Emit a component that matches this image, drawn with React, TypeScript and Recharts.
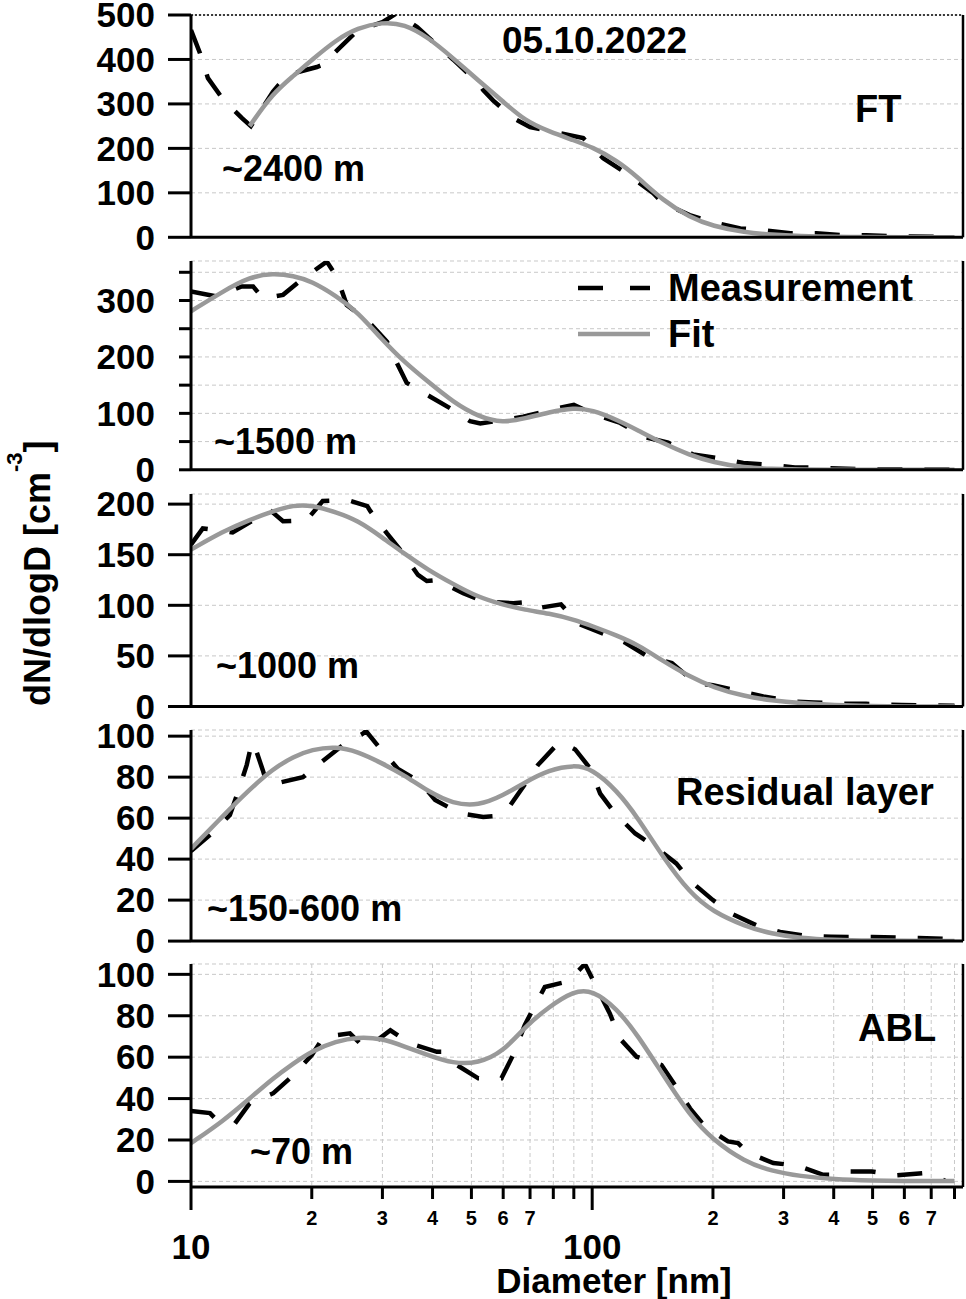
import { LineChart, Line, XAxis, YAxis, CartesianGrid, ReferenceLine, Legend } from "recharts";

const FONT = '"Liberation Sans", Arial, Helvetica, sans-serif';

// ---- data ----
// diameters (nm) at which the fitted curves were read
const fitDiameters = [
  10, 12, 14, 16, 18, 20, 23, 26, 30, 34, 39, 45, 52, 60, 68, 78, 90, 100, 115, 130, 150, 175,
  200, 240, 280, 330, 400, 500, 600, 700, 800,
];

// fitted dN/dlogD (cm^-3), one value per fitDiameters entry
const fitFT = [
  null, null, 250, 324, 363, 399, 444, 471, 484, 480, 450, 403, 353, 305, 262, 238, 218, 203, 173,
  135, 83, 45, 25, 11, 6, 3, 1, 0.5, 0, 0, 0,
];
const fit1500 = [
  281, 316, 342, 348, 344, 334, 308, 280, 230, 191, 156, 120, 94, 83, 91, 102, 110, 106, 89, 70,
  47, 26, 13.5, 3.5, 1.5, 0.5, 0, 0, 0, 0, 0,
];
const fit1000 = [
  155, 173, 184.5, 193, 199, 199, 192, 184, 167, 151, 135, 121, 108, 100.5, 95.5, 92, 86, 79.5,
  70.3, 61, 45, 29.5, 19, 10, 6, 3.2, 1.3, 0.3, 0.1, 0, 0,
];
const fitRL = [
  45, 61, 74, 84, 90, 93.5, 95, 92.5, 86.7, 81, 73, 67, 66, 71, 77.5, 83.5, 86, 84, 73.7, 60.2, 41,
  23.5, 14.3, 7.3, 3.5, 1.5, 0.6, 0.2, 0.1, 0.1, 0.1,
];
const fitABL = [
  18.5, 29, 40, 49.8, 57, 63, 67.7, 69.8, 69, 65.2, 61, 56.9, 57, 62.6, 74.7, 84.3, 92, 92.5, 83.7,
  70.5, 51.6, 31.9, 20, 9.5, 5, 2.5, 1, 0.4, 0.2, 0.2, 0.2,
];

// measured size distributions: [diameter nm, dN/dlogD]
const measFT: [number, number][] = [
  [10, 466], [10.53, 414], [11.02, 358], [12.0, 311], [13.4, 268], [14.1, 250], [16.0, 327],
  [17.35, 365], [20.6, 383], [22.2, 394], [22.9, 417], [26, 465], [30, 484], [32.6, 504],
  [36.6, 473], [39, 450], [45, 400], [52, 347], [53.5, 331], [56.6, 308], [63.6, 268], [70, 248],
  [83.2, 234], [95, 223], [106.5, 178], [120.8, 146], [142, 99], [150, 77], [175, 50], [200, 34],
  [234, 20], [267, 16], [312, 9], [362, 9], [423, 4.5], [482, 4.5], [600, 2], [800, 1],
];
const meas1500: [number, number][] = [
  [10, 316], [11.59, 307], [13.38, 325], [14.28, 325], [15.1, 304], [16.96, 310], [18.88, 337],
  [21.8, 369], [23.1, 342], [24.45, 292], [27.4, 266], [30.8, 227], [32.3, 195], [34.5, 154],
  [39.4, 130], [45, 106], [49.6, 86], [52.6, 82], [61, 89], [67.3, 94], [78.5, 106], [90, 115],
  [102.3, 97], [117.5, 83], [135.5, 58], [154.7, 48], [178.6, 27], [203.8, 21], [238, 12],
  [275, 9], [320, 4], [356, 4], [470, 1], [800, 0.5],
];
const meas1000: [number, number][] = [
  [10, 160], [10.7, 176], [12.7, 172], [15.75, 194], [16.96, 183], [19.4, 184], [21.3, 203],
  [24.6, 204], [27.5, 198], [28, 193], [30.8, 171], [33.2, 155], [36.8, 130], [38.7, 124],
  [41, 125], [47.7, 112], [53.5, 104], [63.6, 102], [68, 103], [72.5, 97], [83.6, 101], [92, 82],
  [106.5, 72], [121, 63], [139.5, 48], [158, 43], [181, 23], [200, 21], [234, 15], [267, 10],
  [316, 5], [357, 4], [424, 2.7], [482, 2.7], [590, 1.5], [800, 0.7],
];
const measRL: [number, number][] = [
  [10, 44], [11.26, 52.5], [12.5, 61.5], [13.1, 72.8], [13.77, 86], [14.16, 96.4], [14.3, 97],
  [15.1, 83.4], [15.45, 77], [16.36, 77], [19.0, 80], [21.2, 87.5], [23.9, 95.6], [26.85, 101.3],
  [27.3, 102.5], [29.6, 94], [32.8, 84], [37.2, 77.7], [40.6, 68.8], [46.9, 62.3], [53.5, 60.6],
  [57, 61], [61.7, 64.7], [67.3, 75.3], [73.3, 86], [80.9, 95], [84, 97], [90.7, 93.5],
  [98.9, 84.2], [104.7, 72], [114, 62.3], [128, 52.5], [143.6, 46], [162, 37.9], [176.7, 28.9],
  [200, 20], [222, 13.5], [256, 7.8], [294, 4.5], [344, 2.4], [394, 2.1], [500, 2], [650, 1.5],
  [800, 1],
];
const measABL: [number, number][] = [
  [10, 34], [11.15, 33], [11.48, 30.5], [12.87, 28], [14.0, 37.7], [16.04, 42.6], [17.83, 50.6],
  [20, 61], [21.4, 69.8], [24.9, 71.5], [26.4, 66.6], [27.7, 65], [31.4, 73], [35.2, 66.6],
  [41, 62.6], [42.6, 62.6], [46, 56.2], [52, 49.8], [59.4, 49.8], [63.5, 61], [67.9, 75.4],
  [71.3, 83.5], [76.2, 93.9], [87.1, 96.6], [95.9, 105], [104.5, 90.7], [110.7, 81],
  [117.2, 69], [129, 60.2], [148.9, 56.2], [160.7, 46.6], [175.3, 35.3], [191, 26.5], [218, 19.3],
  [231, 18.5], [245, 13.7], [282.8, 8.9], [325.5, 7.6], [376.6, 3.2], [406, 3.2], [430.7, 4.8],
  [497, 4.8], [574, 2.9], [669, 4], [702, 3.2], [758, 0.3],
];

const xTicks = [10, 20, 30, 40, 50, 60, 70, 80, 90, 100, 200, 300, 400, 500, 600, 700, 800];
const X_MIN = 10;
const X_MAX = 840;

const toPoints = (pairs: [number, number][]) => pairs.map(([d, n]) => ({ d, n }));
const fitPoints = (vals: (number | null)[]) => fitDiameters.map((d, i) => ({ d, n: vals[i] }));

// ---- layout of the five stacked panels ----
type Panel = {
  id: string;
  meas: [number, number][];
  fit: (number | null)[];
  domain: [number, number];
  ticks: number[];
  labelStep: number;
  tickLen: number;
  top: number;
  plotH: number;
  altitude: { text: string; x: number; y: number };
  tag?: { text: string; x: number; y: number };
};

const panels: Panel[] = [
  {
    id: "ft", meas: measFT, fit: fitFT, domain: [0, 500], ticks: [0, 100, 200, 300, 400, 500],
    labelStep: 100, tickLen: 23, top: 15, plotH: 222.3,
    altitude: { text: "~2400 m", x: 222, y: 181 }, tag: { text: "FT", x: 855, y: 122 },
  },
  {
    id: "1500", meas: meas1500, fit: fit1500, domain: [0, 370],
    ticks: [0, 50, 100, 150, 200, 250, 300, 350], labelStep: 100, tickLen: 12, top: 261.2,
    plotH: 208.8, altitude: { text: "~1500 m", x: 214, y: 454 },
  },
  {
    id: "1000", meas: meas1000, fit: fit1000, domain: [0, 210], ticks: [0, 50, 100, 150, 200],
    labelStep: 50, tickLen: 23, top: 494.2, plotH: 212.5,
    altitude: { text: "~1000 m", x: 216, y: 678 },
  },
  {
    id: "rl", meas: measRL, fit: fitRL, domain: [0, 103], ticks: [0, 20, 40, 60, 80, 100],
    labelStep: 20, tickLen: 23, top: 729.9, plotH: 211.1,
    altitude: { text: "~150-600 m", x: 207, y: 921 },
    tag: { text: "Residual layer", x: 676, y: 805 },
  },
  {
    id: "abl", meas: measABL, fit: fitABL, domain: [-2.7, 105], ticks: [0, 20, 40, 60, 80, 100],
    labelStep: 20, tickLen: 23, top: 964.3, plotH: 223,
    altitude: { text: "~70 m", x: 250, y: 1164 }, tag: { text: "ABL", x: 858, y: 1041 },
  },
];

const PAD = 20;
const textStyle = { fontFamily: FONT, fontWeight: 700, fill: "#000" } as const;

function CountTick(props: any) {
  const { x, y, payload, step } = props;
  const v = payload.value;
  if (v % step !== 0) return <g />;
  return (
    <text x={x} y={y} dy="0.35em" textAnchor="end" fontSize={35} {...textStyle}>
      {v}
    </text>
  );
}

function DiameterTick(props: any) {
  const { x, y, payload } = props;
  const v = payload.value;
  const major = v === 10 || v === 100;
  const digit = v < 100 ? v / 10 : v / 100;
  return (
    <g>
      <line x1={x} x2={x} y1={y} y2={y + (major ? 23 : 12)} stroke="#000" strokeWidth={3} />
      {major ? (
        <text x={x} y={y + 72} textAnchor="middle" fontSize={35} {...textStyle}>
          {v}
        </text>
      ) : digit <= 7 ? (
        <text x={x} y={y + 38} textAnchor="middle" fontSize={20} {...textStyle}>
          {digit}
        </text>
      ) : null}
    </g>
  );
}

function SeriesLegend() {
  return (
    <svg width={360} height={100}>
      <line x1={8} x2={80} y1={26} y2={26} stroke="#000" strokeWidth={4.5} strokeDasharray="25 27" />
      <line x1={8} x2={80} y1={72} y2={72} stroke="#999" strokeWidth={4.5} />
      <text x={98} y={39} fontSize={38} {...textStyle}>Measurement</text>
      <text x={98} y={85} fontSize={38} {...textStyle}>Fit</text>
    </svg>
  );
}

function PanelChart({ p, last }: { p: Panel; last: boolean }) {
  const axisH = last ? 1299 - (p.top + p.plotH) : 1;
  const bottom = last ? 0 : PAD;
  const height = PAD + p.plotH + axisH + bottom;
  return (
    <div style={{ position: "absolute", left: 0, top: p.top - PAD }}>
      <LineChart width={966} height={height} margin={{ top: PAD, right: 3, bottom, left: 0 }}>
        <CartesianGrid stroke="#c8c8c8" strokeDasharray="4 3" strokeWidth={1} />
        <XAxis
          type="number"
          dataKey="d"
          scale="log"
          domain={[X_MIN, X_MAX]}
          allowDataOverflow
          ticks={xTicks}
          interval={0}
          height={axisH}
          axisLine={{ stroke: "#000", strokeWidth: 3 }}
          tickLine={false}
          tickSize={0}
          tickMargin={0}
          tick={last ? (t: any) => <DiameterTick {...t} /> : false}
        />
        <YAxis
          type="number"
          domain={p.domain}
          allowDataOverflow
          ticks={p.ticks}
          interval={0}
          width={191}
          axisLine={{ stroke: "#000", strokeWidth: 3 }}
          tickLine={{ stroke: "#000", strokeWidth: 3 }}
          tickSize={p.tickLen}
          tickMargin={36 - p.tickLen}
          tick={(t: any) => <CountTick {...t} step={p.labelStep} />}
        />
        <ReferenceLine x={X_MAX} stroke="#000" strokeWidth={2.5} />
        {p.id === "ft" && (
          <ReferenceLine y={p.domain[1]} stroke="#000" strokeWidth={1.5} strokeDasharray="2 2" />
        )}
        {p.id === "1500" && (
          <Legend
            layout="vertical"
            align="center"
            verticalAlign="middle"
            content={() => <SeriesLegend />}
            wrapperStyle={{ left: 570, top: PAD + 0.8, width: 360, height: 100 }}
          />
        )}
        <Line
          data={toPoints(p.meas)}
          dataKey="n"
          name="Measurement"
          type="linear"
          stroke="#000"
          strokeWidth={4.5}
          strokeDasharray="25 22"
          dot={false}
          activeDot={false}
          isAnimationActive={false}
        />
        <Line
          data={fitPoints(p.fit)}
          dataKey="n"
          name="Fit"
          type="basis"
          stroke="#999"
          strokeWidth={4.5}
          dot={false}
          activeDot={false}
          isAnimationActive={false}
        />
      </LineChart>
    </div>
  );
}

export default function App() {
  return (
    <div
      style={{
        position: "absolute",
        left: 0,
        top: 0,
        width: 966,
        height: 1299,
        overflow: "hidden",
        background: "#fff",
      }}
    >
      {panels.map((p, i) => (
        <PanelChart key={p.id} p={p} last={i === panels.length - 1} />
      ))}
      <svg
        width={966}
        height={1299}
        style={{ position: "absolute", left: 0, top: 0, pointerEvents: "none" }}
      >
        <text x={502} y={53} fontSize={37} {...textStyle}>05.10.2022</text>
        {panels.map((p) => (
          <g key={p.id}>
            <text x={p.altitude.x} y={p.altitude.y} fontSize={36} {...textStyle}>
              {p.altitude.text}
            </text>
            {p.tag && (
              <text x={p.tag.x} y={p.tag.y} fontSize={38} {...textStyle}>
                {p.tag.text}
              </text>
            )}
          </g>
        ))}
        <text transform="translate(50,706) rotate(-90)" fontSize={36} {...textStyle}>
          dN/dlogD [cm
          <tspan fontSize={22} dy={-28}>-3</tspan>
          <tspan dy={28}>]</tspan>
        </text>
        <text x={614} y={1293} textAnchor="middle" fontSize={35} {...textStyle}>
          Diameter [nm]
        </text>
      </svg>
    </div>
  );
}
